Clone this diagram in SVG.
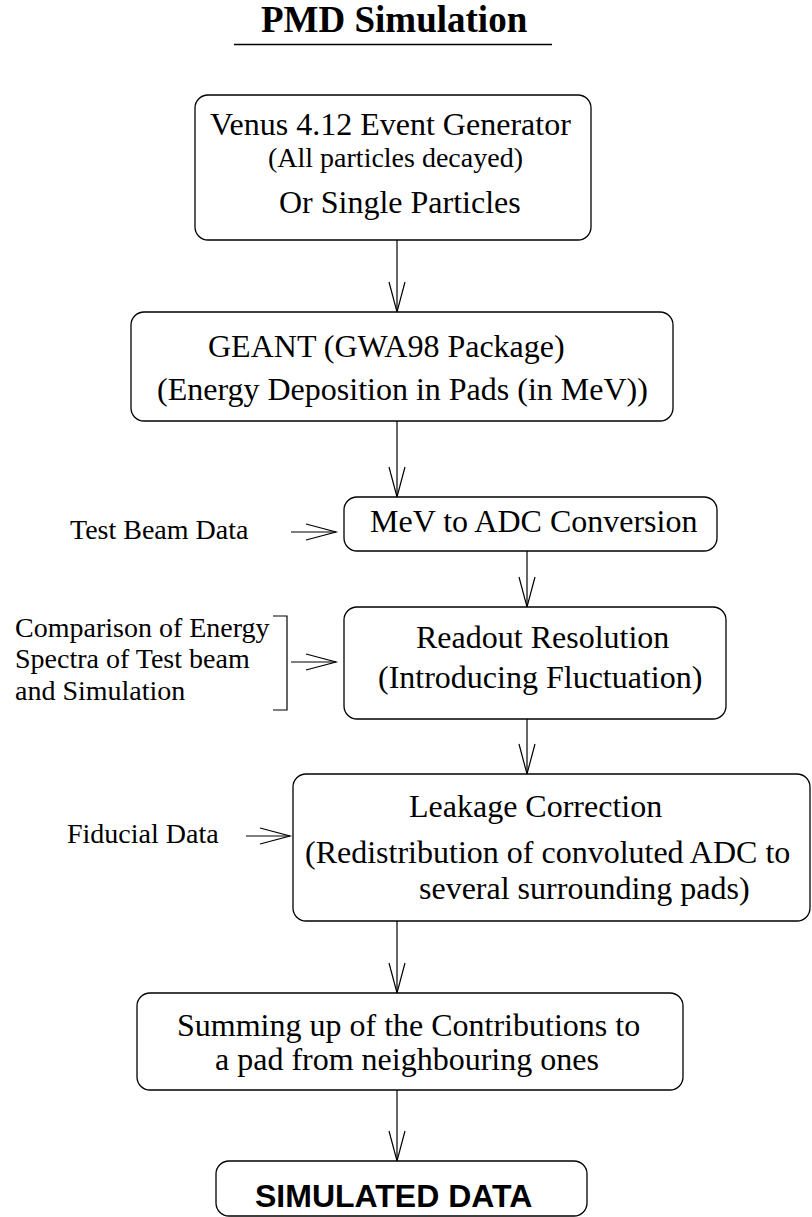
<svg xmlns="http://www.w3.org/2000/svg" width="812" height="1217" viewBox="0 0 812 1217">
<style>
.box{fill:#fff;stroke:#000;stroke-width:1.3}
.t{font-family:"Liberation Serif","Times New Roman",serif;font-size:32px;fill:#000}
.s{font-family:"Liberation Serif","Times New Roman",serif;font-size:28px;fill:#000}
.c{fill:none;stroke:#000;stroke-width:1.2}
</style>
<defs>
<marker id="ah" markerUnits="userSpaceOnUse" markerWidth="34" markerHeight="20" refX="31" refY="9" orient="auto">
<path d="M1,1 L31,9 L1,17" fill="none" stroke="#000" stroke-width="1.2"/>
</marker>
</defs>
<rect width="812" height="1217" fill="#fff"/>
<g id="title">
<text x="261" y="32" style="font-family:'Liberation Serif','Times New Roman',serif;font-size:37px;font-weight:bold">PMD Simulation</text>
<line x1="234" y1="44.5" x2="552" y2="44.5" stroke="#000" stroke-width="1.5"/>
</g>
<g id="connectors">
<line class="c" x1="397" y1="240" x2="397" y2="312" marker-end="url(#ah)"/>
<line class="c" x1="397" y1="421" x2="397" y2="497" marker-end="url(#ah)"/>
<line class="c" x1="527" y1="551" x2="527" y2="607" marker-end="url(#ah)"/>
<line class="c" x1="527" y1="719" x2="527" y2="774" marker-end="url(#ah)"/>
<line class="c" x1="397" y1="921" x2="397" y2="993" marker-end="url(#ah)"/>
<line class="c" x1="397" y1="1090" x2="397" y2="1161" marker-end="url(#ah)"/>
<line class="c" x1="291" y1="532" x2="336" y2="532" marker-end="url(#ah)"/>
<line class="c" x1="291" y1="662" x2="336" y2="662" marker-end="url(#ah)"/>
<line class="c" x1="246" y1="836" x2="290" y2="836" marker-end="url(#ah)"/>
<path class="c" d="M273,616 H287 V710 H273"/>
</g>
<g id="venus">
<rect class="box" x="195" y="95" width="396" height="145" rx="13"/>
<text class="t" x="210" y="135">Venus 4.12 Event Generator</text>
<text class="s" x="268" y="167">(All particles decayed)</text>
<text class="t" x="279" y="213">Or Single Particles</text>
</g>
<g id="geant">
<rect class="box" x="131" y="312" width="542" height="109" rx="13"/>
<text class="t" x="208" y="357">GEANT (GWA98 Package)</text>
<text class="t" x="157" y="400">(Energy Deposition in Pads (in MeV))</text>
</g>
<g id="mev">
<rect class="box" x="344" y="497" width="373" height="54" rx="13"/>
<text class="t" x="370" y="532">MeV to ADC Conversion</text>
</g>
<g id="readout">
<rect class="box" x="344" y="607" width="382" height="112" rx="13"/>
<text class="t" x="416" y="648">Readout Resolution</text>
<text class="t" x="378" y="688">(Introducing Fluctuation)</text>
</g>
<g id="leakage">
<rect class="box" x="293" y="774" width="517" height="147" rx="13"/>
<text class="t" x="409" y="817">Leakage Correction</text>
<text class="t" x="305" y="863">(Redistribution of convoluted ADC to</text>
<text class="t" x="419" y="899">several surrounding pads)</text>
</g>
<g id="summing">
<rect class="box" x="137" y="993" width="546" height="97" rx="13"/>
<text class="t" x="177" y="1036">Summing up of the Contributions to</text>
<text class="t" x="215" y="1070">a pad from neighbouring ones</text>
</g>
<g id="simulated">
<rect class="box" x="216" y="1161" width="371" height="55" rx="13"/>
<text x="255" y="1207" style="font-family:'Liberation Sans',Arial,sans-serif;font-size:32px;font-weight:bold">SIMULATED DATA</text>
</g>
<g id="testbeam">
<text class="s" x="70" y="539">Test Beam Data</text>
</g>
<g id="comparison">
<text class="s" x="15" y="637">Comparison of Energy</text>
<text class="s" x="15" y="668">Spectra of Test beam</text>
<text class="s" x="15" y="700">and Simulation</text>
</g>
<g id="fiducial">
<text class="s" x="67" y="843">Fiducial Data</text>
</g>
</svg>
